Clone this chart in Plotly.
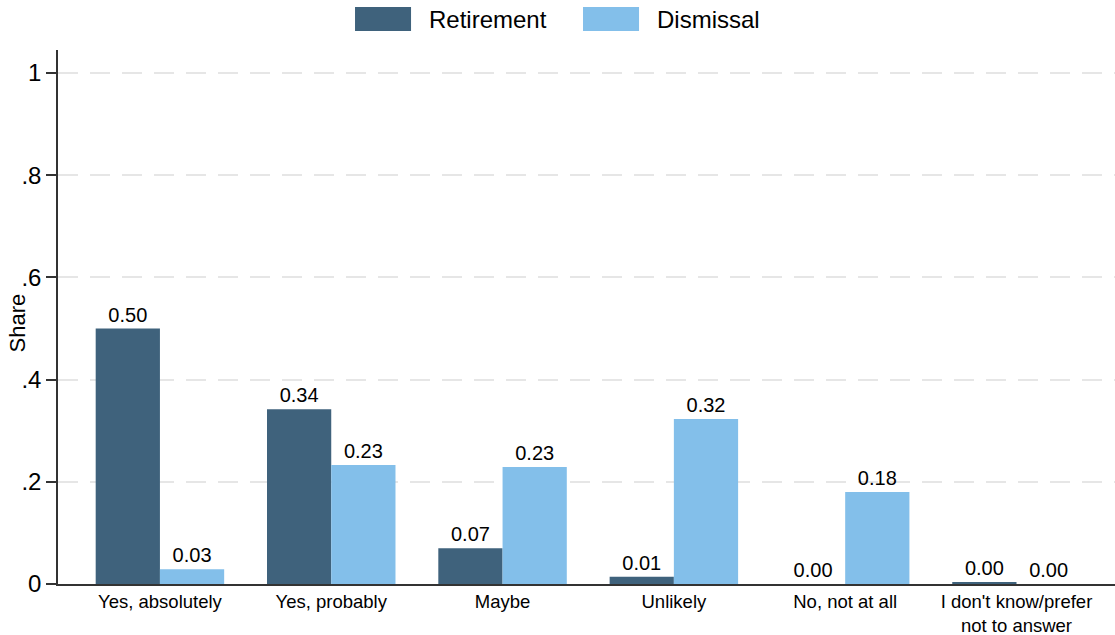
import plotly.graph_objects as go

# Data
categories = ["Yes, absolutely", "Yes, probably", "Maybe", "Unlikely",
              "No, not at all", "I don't know/prefer<br>not to answer"]
retirement = [0.500, 0.342, 0.070, 0.014, 0.000, 0.004]
dismissal = [0.029, 0.233, 0.229, 0.323, 0.180, 0.000]

y_ticks = [0, 0.2, 0.4, 0.6, 0.8, 1]
y_tick_labels = ["0", ".2", ".4", ".6", ".8", "1"]

FONT = "Arial, Liberation Sans, sans-serif"
C_RET = "#3f627c"
C_DIS = "#83bfea"

fig = go.Figure()

series = [("Retirement", retirement, C_RET), ("Dismissal", dismissal, C_DIS)]
for name, vals, col in series:
    fig.add_trace(go.Bar(
        x=categories, y=vals, name=name,
        marker=dict(color=col, line=dict(width=0)),
        texttemplate="%{y:.2f}", textposition="outside",
        textfont=dict(size=20, color="black"), cliponaxis=False,
        showlegend=False,
    ))

fig.update_layout(
    width=1115, height=635,
    barmode="group", bargap=0.25, bargroupgap=0,
    plot_bgcolor="white", paper_bgcolor="white",
    font=dict(family=FONT, color="black"),
    margin=dict(l=58, r=0, t=50, b=51, autoexpand=False),
)

# Stata-style legend with wide swatches above the plot
legend_x = [0.281, 0.4967]
for (name, vals, col), lx in zip(series, legend_x):
    fig.add_shape(type="rect", xref="paper", yref="paper",
                  x0=lx, x1=lx + 0.053, y0=1.0356, y1=1.0805,
                  fillcolor=col, line=dict(width=0))
    fig.add_annotation(text=name, xref="paper", yref="paper",
                       x=lx + 0.068, y=1.058, xanchor="left", yanchor="middle",
                       showarrow=False, font=dict(size=24))

fig.update_xaxes(
    range=[-0.595, 5.575], showline=True, linecolor="#333333", linewidth=1.5,
    ticks="", tickfont=dict(size=18.5), showgrid=False, zeroline=False,
    automargin=False,
)
fig.update_yaxes(
    range=[0, 1.045], tickvals=y_ticks, ticktext=y_tick_labels,
    showline=True, linecolor="#333333", linewidth=1.5,
    ticks="outside", ticklen=10, tickcolor="#333333", tickwidth=1.5,
    tickfont=dict(size=24),
    showgrid=True, gridcolor="#e6e6e6", gridwidth=1.5, griddash="20px,12px",
    zeroline=False, automargin=False,
)

# y axis title, placed like the original (overlapping the tick labels)
fig.add_annotation(
    text="Share", xref="paper", x=0, xshift=-41, xanchor="center",
    yref="y", y=0.51, yanchor="middle", textangle=-90,
    showarrow=False, font=dict(size=22),
)

# drop the browser's default body margin so the figure sits at the page corner
fig.write_html("out.html", config={"displayModeBar": False},
               post_script="document.body.style.margin='0';")
